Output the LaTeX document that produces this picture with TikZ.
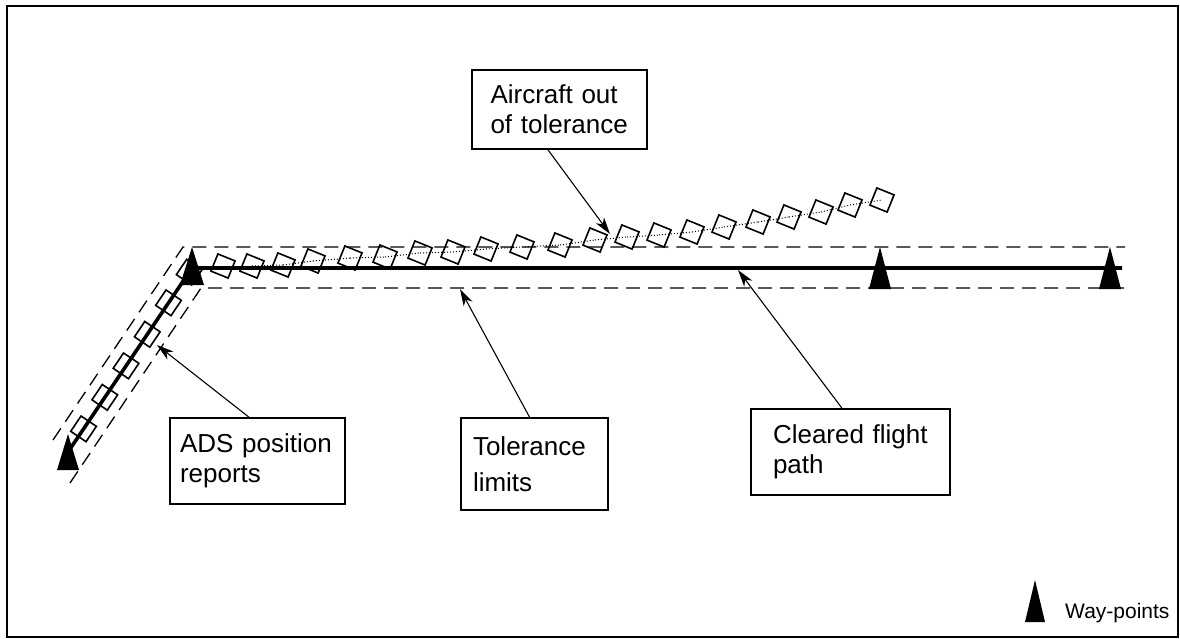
\documentclass[tikz,border=0pt]{standalone}
\usepackage{fontspec}
\setmainfont{Liberation Sans}
\usetikzlibrary{arrows.meta}
\newcommand\waypt[3]{\fill[shift={(#1)}] (-#2,#3) -- (0,-#3) -- (#2,#3) -- cycle;}
\begin{document}
\begin{tikzpicture}[x=1pt,y=-1pt,
  lbl/.style={draw, line width=1.6pt, align=left, inner sep=0pt, font=\fontsize{26}{30}\selectfont},
  limit/.style={dash pattern=on 14pt off 8pt, line width=1.3pt},
  track/.style={line width=3.6pt},
  sq/.style={draw, line width=1.6pt, minimum size=18.5pt, inner sep=0pt},
  callout/.style={line width=1.1pt, -{Stealth[length=17pt,width=10pt,inset=5pt]}},
]
\useasboundingbox (0,0) rectangle (1180,638);
\draw[line width=2pt] (7,6) rectangle (1178,637);

% coordinates
\coordinate (w0) at (68,452);
\coordinate (wc) at (192,268);
\coordinate (wend) at (1122,268);
\coordinate (w1) at (880,268);
\coordinate (w2) at (1110,268);

% tolerance limits
\draw[limit] (53,440) -- (183,247) -- (1125,247);
\draw[limit] (70,483) -- (201,288) -- (1125,288);

% cleared flight path
\draw[track] (w0) -- (wc) -- (wend);

% ADS reports along the first leg
\foreach \s [count=\i] in {5,42,80,118,156,194}
  \node[sq, rotate=56] (d\i) at ({192-0.559*\s},{268+0.829*\s}) {};

% ADS reports along the second leg
\foreach \p [count=\i] in {(223,266),(252,266),(283,265),(313,261),(350,258),(385,257),(420,253),(453,252),(486,249),(522,247),(560,245),(595,240),(627,237),(659,235),(692,232),(724,227),(758,222),(789,217),(821,212),(850,205),(882,200)}
  \node[sq, rotate=-22] (r\i) at \p {};
\foreach \i [evaluate=\i as \j using int(\i+1)] in {1,...,20}
  \draw[dotted, line width=1pt] (r\i.center) -- (r\j.center);

% way-points
\waypt{w0}{11}{18}
\waypt{192,266}{12}{19}
\waypt{w1}{11}{21}
\waypt{w2}{11}{21}

% labels
\node[lbl, minimum width=175pt, minimum height=79pt, text width=138pt] (air) at (559.5,109.5) {Aircraft out\\of tolerance};
\node[lbl, minimum width=175pt, minimum height=86pt, text width=155pt] (ads) at (257.5,461) {ADS position\\reports};
\node[lbl, minimum width=147pt, minimum height=92pt, text width=123pt, font=\fontsize{26}{36}\selectfont] (tol) at (534.5,464) {Tolerance\\limits};
\node[lbl, minimum width=199pt, minimum height=86pt, text width=155pt] (clr) at (850.5,452) {Cleared flight\\path};

% arrow tips
\coordinate (tair) at (610,234);
\coordinate (tads) at (157,345);
\coordinate (ttol) at (460,289);
\coordinate (tclr) at (738,270);

\draw[callout] (air.-106) -- (tair);
\draw[callout] (ads.101) -- (tads);
\draw[callout] (tol.96) -- (ttol);
\draw[callout] (clr.101) -- (tclr);

% legend
\waypt{1035,601}{10}{21}
\node[anchor=base west, inner sep=0pt, font=\fontsize{21}{25}\selectfont] (leg) at (1065,618) {Way-points};
\end{tikzpicture}
\end{document}
